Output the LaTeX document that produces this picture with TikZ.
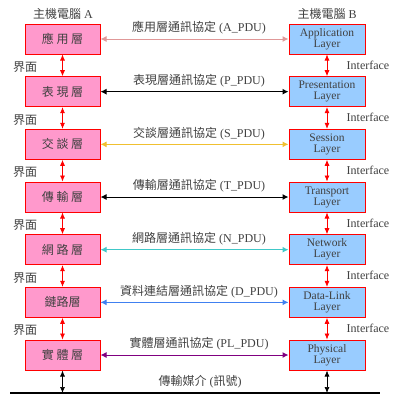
\documentclass[tikz,border=0pt]{standalone}
\usepackage{fontspec}
\setmainfont{Liberation Serif}
\newfontfamily\cjk{Noto Sans CJK TC}
\usetikzlibrary{arrows.meta}

\definecolor{boxpink}{HTML}{FF99CC}
\definecolor{boxblue}{HTML}{99CCFF}
\definecolor{txtgray}{HTML}{404040}
\definecolor{pdupink}{HTML}{E09898}
\definecolor{pduyellow}{HTML}{F0C030}
\definecolor{pducyan}{HTML}{40C8C8}
\definecolor{pdublue}{HTML}{4080F0}
\definecolor{pdupurple}{HTML}{800080}

\begin{document}
\begin{tikzpicture}[x=1pt, y=-1pt, thick,
  hostA/.style={draw=red, fill=boxpink, line width=1pt, minimum width=75pt, minimum height=30pt, inner sep=0pt, font=\cjk\fontsize{12}{13}\selectfont, text=txtgray},
  hostB/.style={draw=red, fill=boxblue, line width=1pt, minimum width=76pt, minimum height=30pt, inner sep=0pt, align=center, font=\fontsize{11.5}{11}\selectfont, text=txtgray},
  pdu/.style={line width=1pt, {Latex[length=6pt,width=6pt]}-{Latex[length=6pt,width=6pt]}},
  iface/.style={red, line width=0.7pt, {Latex[length=6pt,width=5pt]}-{Latex[length=6pt,width=5pt]}},
  lbl/.style={text=txtgray, font=\fontsize{12}{13}\selectfont, inner sep=0pt}]

\useasboundingbox (0,0) rectangle (407,405);

% Host titles
\node[lbl] (titleA) at (63,14) {{\cjk 主機電腦} A};
\node[lbl] (titleB) at (327,14) {{\cjk 主機電腦} B};

% Layers of both hosts with the peer protocols
\foreach \i/\ltxt/\rtxt/\ptxt/\pdu/\col in {
    1/應 用 層/Application/應用層通訊協定/A\_PDU/pdupink,
    2/表 現 層/Presentation/表現層通訊協定/P\_PDU/black,
    3/交 談 層/Session/交談層通訊協定/S\_PDU/pduyellow,
    4/傳 輸 層/Transport/傳輸層通訊協定/T\_PDU/black,
    5/網 路 層/Network/網路層通訊協定/N\_PDU/pducyan,
    6/鏈路層/Data-Link/資料連結層通訊協定/D\_PDU/pdublue,
    7/實 體 層/Physical/實體層通訊協定/PL\_PDU/pdupurple} {
  \node[hostA] (L\i) at (62.5, {39+52.67*(\i-1)}) {\ltxt};
  \node[hostB] (R\i) at (327, {39+52.67*(\i-1)}) {\rtxt\\Layer};
  \draw[pdu, \col] (L\i) -- (R\i);
  \node[lbl] (P\i) at (199, {28+52.67*(\i-1)}) {{\cjk \ptxt} (\pdu)};
}

% Interfaces between adjacent layers
\foreach \i/\j in {1/2,2/3,3/4,4/5,5/6,6/7} {
  \draw[iface] (L\i) -- (L\j);
  \draw[iface] (R\i) -- (R\j);
  \node[lbl, font=\cjk\fontsize{12}{13}\selectfont] (IA\i) at (25, {67+52.67*(\i-1)}) {界面};
  \node[lbl] (IB\i) at (368, {65+52.67*(\i-1)}) {Interface};
}

% Transmission medium
\coordinate (gL) at (10,393);
\coordinate (gR) at (380,393);
\draw[line width=2pt] (gL) -- (gR);
\coordinate (mA) at (62.5,393);
\coordinate (mB) at (327,393);
\draw[line width=0.7pt, {Latex[length=6pt,width=5pt]}-{Latex[length=6pt,width=5pt]}] (L7) -- (mA);
\draw[line width=0.7pt, {Latex[length=6pt,width=5pt]}-{Latex[length=6pt,width=5pt]}] (R7) -- (mB);
\node[lbl] (medium) at (200,382) {{\cjk 傳輸媒介} ({\cjk 訊號})};

\end{tikzpicture}
\end{document}
